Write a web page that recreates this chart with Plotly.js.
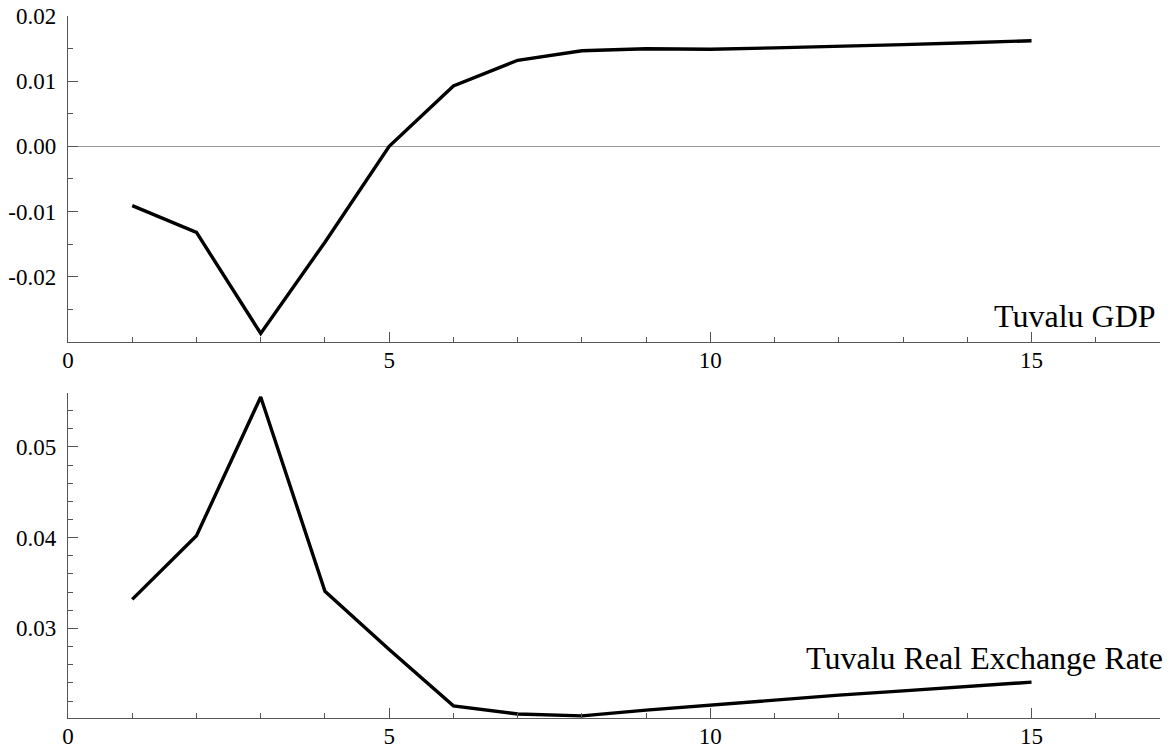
<!DOCTYPE html>
<html>
<head>
<meta charset="utf-8">
<script src="https://cdn.plot.ly/plotly-3.0.1.min.js"></script>
<style>html,body{margin:0;padding:0;background:#fff;}#chart{width:1176px;height:753px;}</style>
</head>
<body>
<div id="chart"></div>
<script>
const periods = [1,2,3,4,5,6,7,8,9,10,11,12,13,14,15];
const gdp = [-0.0091,-0.0132,-0.0287,-0.0147,0.0000,0.00925,0.0132,0.01466,0.01497,0.0149,0.0151,0.0153,0.0156,0.0159,0.0162];
const rer = [0.0332,0.0402,0.0555,0.0341,0.02768,0.02147,0.02058,0.02036,0.0210,0.02155,0.02217,0.02265,0.02312,0.02364,0.02408];
const xTickVals = [0,5,10,15];
const xTickText = ["0","5","10","15"];
const gdpTickVals = [-0.02,-0.01,0,0.01,0.02];
const gdpTickText = ["-0.02","-0.01","0.00","0.01","0.02"];
const rerTickVals = [0.03,0.04,0.05];
const rerTickText = ["0.03","0.04","0.05"];
const gdpLabel = "Tuvalu GDP";
const rerLabel = "Tuvalu Real Exchange Rate";

const FONT = "Liberation Serif";
const axisColor = "#555";

function xAxis(anchor){
  return {
    anchor: anchor, range:[0,17], showgrid:false, zeroline:false,
    showline:true, linecolor:axisColor, linewidth:1.2,
    ticks:"inside", ticklen:10, tickwidth:1, tickcolor:axisColor,
    tickmode:"array", tickvals:xTickVals, ticktext:xTickText,
    minor:{dtick:1, tick0:0, ticks:"inside", ticklen:5, tickwidth:1, tickcolor:axisColor, showgrid:false},
    tickfont:{family:FONT, size:23, color:"#000"},
    ticklabelstandoff: -3
  };
}
function yAxis(anchor, domain, range, tv, tt, minorStep, zl){
  return {
    anchor: anchor, domain: domain, range: range, showgrid:false,
    zeroline: zl, zerolinecolor:"#999", zerolinewidth:1,
    showline:true, linecolor:axisColor, linewidth:1.2,
    ticks:"inside", ticklen:10, tickwidth:1, tickcolor:axisColor,
    tickmode:"array", tickvals:tv, ticktext:tt,
    minor:{dtick:minorStep, tick0:0, ticks:"inside", ticklen:5, tickwidth:1, tickcolor:axisColor, showgrid:false},
    tickfont:{family:FONT, size:23, color:"#000"},
    ticklabelstandoff: 6
  };
}

const traces = [
  {x:periods, y:gdp, xaxis:"x", yaxis:"y", mode:"lines", line:{color:"#000", width:3.4}, hoverinfo:"skip"},
  {x:periods, y:rer, xaxis:"x2", yaxis:"y2", mode:"lines", line:{color:"#000", width:3.4}, hoverinfo:"skip"}
];

const layout = {
  width:1176, height:753,
  font:{family:FONT, size:23, color:"#000"},
  margin:{l:68, r:16, t:0, b:0, pad:0},
  paper_bgcolor:"#fff", plot_bgcolor:"#fff",
  showlegend:false,
  xaxis: xAxis("y"),
  yaxis: yAxis("x", [0.5462, 0.9788], [-0.02997, 0.02], gdpTickVals, gdpTickText, 0.005, true),
  xaxis2: xAxis("y2"),
  yaxis2: yAxis("x2", [0.0461, 0.4777], [0.0201, 0.0559], rerTickVals, rerTickText, 0.002, false),
  annotations: [
    {text:gdpLabel, xref:"paper", yref:"paper", x:1, y:1-316/753, xanchor:"right", yanchor:"middle", xshift:-2, showarrow:false, font:{family:FONT, size:32, color:"#000"}},
    {text:rerLabel, xref:"paper", yref:"paper", x:1, y:1-658/753, xanchor:"right", yanchor:"middle", xshift:5, showarrow:false, font:{family:FONT, size:32, color:"#000"}}
  ]
};
Plotly.newPlot("chart", traces, layout, {staticPlot:true, displayModeBar:false});
</script>
</body>
</html>
